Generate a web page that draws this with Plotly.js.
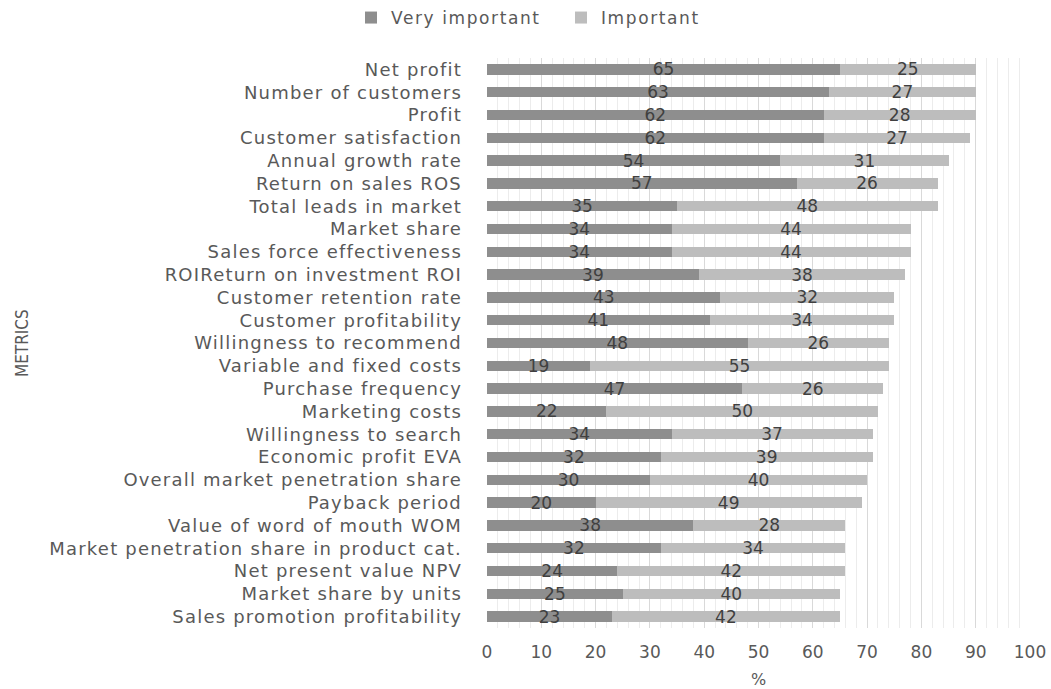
<!DOCTYPE html>
<html>
<head>
<meta charset="utf-8">
<script src="https://cdn.plot.ly/plotly-3.0.1.min.js"></script>
<style>
  html, body { margin: 0; padding: 0; background: #ffffff; }
  #chart { width: 1051px; height: 689px; }
  /* slightly open tracking on the metric names and legend entries */
  #chart .ytick text { letter-spacing: 1.2px; }
  #chart .legendtext { letter-spacing: 1.6px; }
</style>
</head>
<body>
<div id="chart"></div>
<script>
// Marketing metrics ranked by share of respondents rating them important
const metrics = [
  "Net profit",
  "Number of customers",
  "Profit",
  "Customer satisfaction",
  "Annual growth rate",
  "Return on sales ROS",
  "Total leads in market",
  "Market share",
  "Sales force effectiveness",
  "ROIReturn on investment ROI",
  "Customer retention rate",
  "Customer profitability",
  "Willingness to recommend",
  "Variable and fixed costs",
  "Purchase frequency",
  "Marketing costs",
  "Willingness to search",
  "Economic profit EVA",
  "Overall market penetration share",
  "Payback period",
  "Value of word of mouth WOM",
  "Market penetration share in product cat.",
  "Net present value NPV",
  "Market share by units",
  "Sales promotion profitability"
];

const veryImportant = [65, 63, 62, 62, 54, 57, 35, 34, 34, 39, 43, 41, 48, 19, 47, 22, 34, 32, 30, 20, 38, 32, 24, 25, 23];
const important     = [25, 27, 28, 27, 31, 26, 48, 44, 44, 38, 32, 34, 26, 55, 26, 50, 37, 39, 40, 49, 28, 34, 42, 40, 42];

const seriesNames = ["Very important", "Important"];
const xTicks = [0, 10, 20, 30, 40, 50, 60, 70, 80, 90, 100];

const FONT = "DejaVu Sans, sans-serif";
const NARROW = "Liberation Sans Narrow, DejaVu Sans Condensed, sans-serif";
const TEXT_GREY = "#595959";

function barTrace(name, values, color) {
  return {
    type: "bar",
    orientation: "h",
    name: name,
    y: metrics,
    x: values,
    marker: { color: color },
    text: values.map(String),
    textposition: "inside",
    insidetextanchor: "middle",
    textangle: 0,
    constraintext: "none",
    textfont: { family: FONT, size: 17, color: "#404040" },
    hoverinfo: "x+y+name"
  };
}

const data = [
  barTrace(seriesNames[0], veryImportant, "#8e8e8e"),
  barTrace(seriesNames[1], important, "#bdbdbd")
];

const layout = {
  width: 1051,
  height: 689,
  margin: { l: 487, r: 21, t: 58, b: 61 },
  paper_bgcolor: "#ffffff",
  plot_bgcolor: "#ffffff",
  barmode: "stack",
  bargap: 0.55,
  font: { family: FONT, color: TEXT_GREY },
  showlegend: true,
  legend: {
    orientation: "h",
    xref: "container",
    yref: "container",
    x: 351 / 1051,
    xanchor: "left",
    y: 1.0,
    yanchor: "top",
    entrywidth: 165,
    entrywidthmode: "pixels",
    itemwidth: 30,
    font: { family: FONT, size: 17, color: TEXT_GREY },
    traceorder: "normal"
  },
  xaxis: {
    range: [0, 100],
    tickvals: xTicks,
    ticktext: xTicks.map(String),
    showgrid: true,
    gridcolor: "#d9d9d9",
    gridwidth: 1,
    minor: { dtick: 2, showgrid: true, gridcolor: "#ececec", gridwidth: 1 },
    zeroline: false,
    showline: false,
    ticks: "",
    ticklabelstandoff: 12,
    tickfont: { family: FONT, size: 17, color: TEXT_GREY },
    title: { text: "%", font: { family: FONT, size: 16, color: TEXT_GREY }, standoff: 19 },
    fixedrange: true
  },
  yaxis: {
    type: "category",
    categoryorder: "array",
    categoryarray: metrics,
    autorange: "reversed",
    showgrid: false,
    zeroline: false,
    showline: false,
    ticks: "",
    ticklabelstandoff: 24,
    tickfont: { family: FONT, size: 18, color: TEXT_GREY },
    fixedrange: true
  },
  annotations: [{
    text: "METRICS",
    xref: "paper",
    yref: "paper",
    x: (22 - 487) / 543,
    y: 0.5,
    xanchor: "center",
    yanchor: "middle",
    textangle: -90,
    showarrow: false,
    font: { family: NARROW, size: 17, color: TEXT_GREY }
  }]
};

Plotly.newPlot("chart", data, layout, { displayModeBar: false, staticPlot: true });
</script>
</body>
</html>
